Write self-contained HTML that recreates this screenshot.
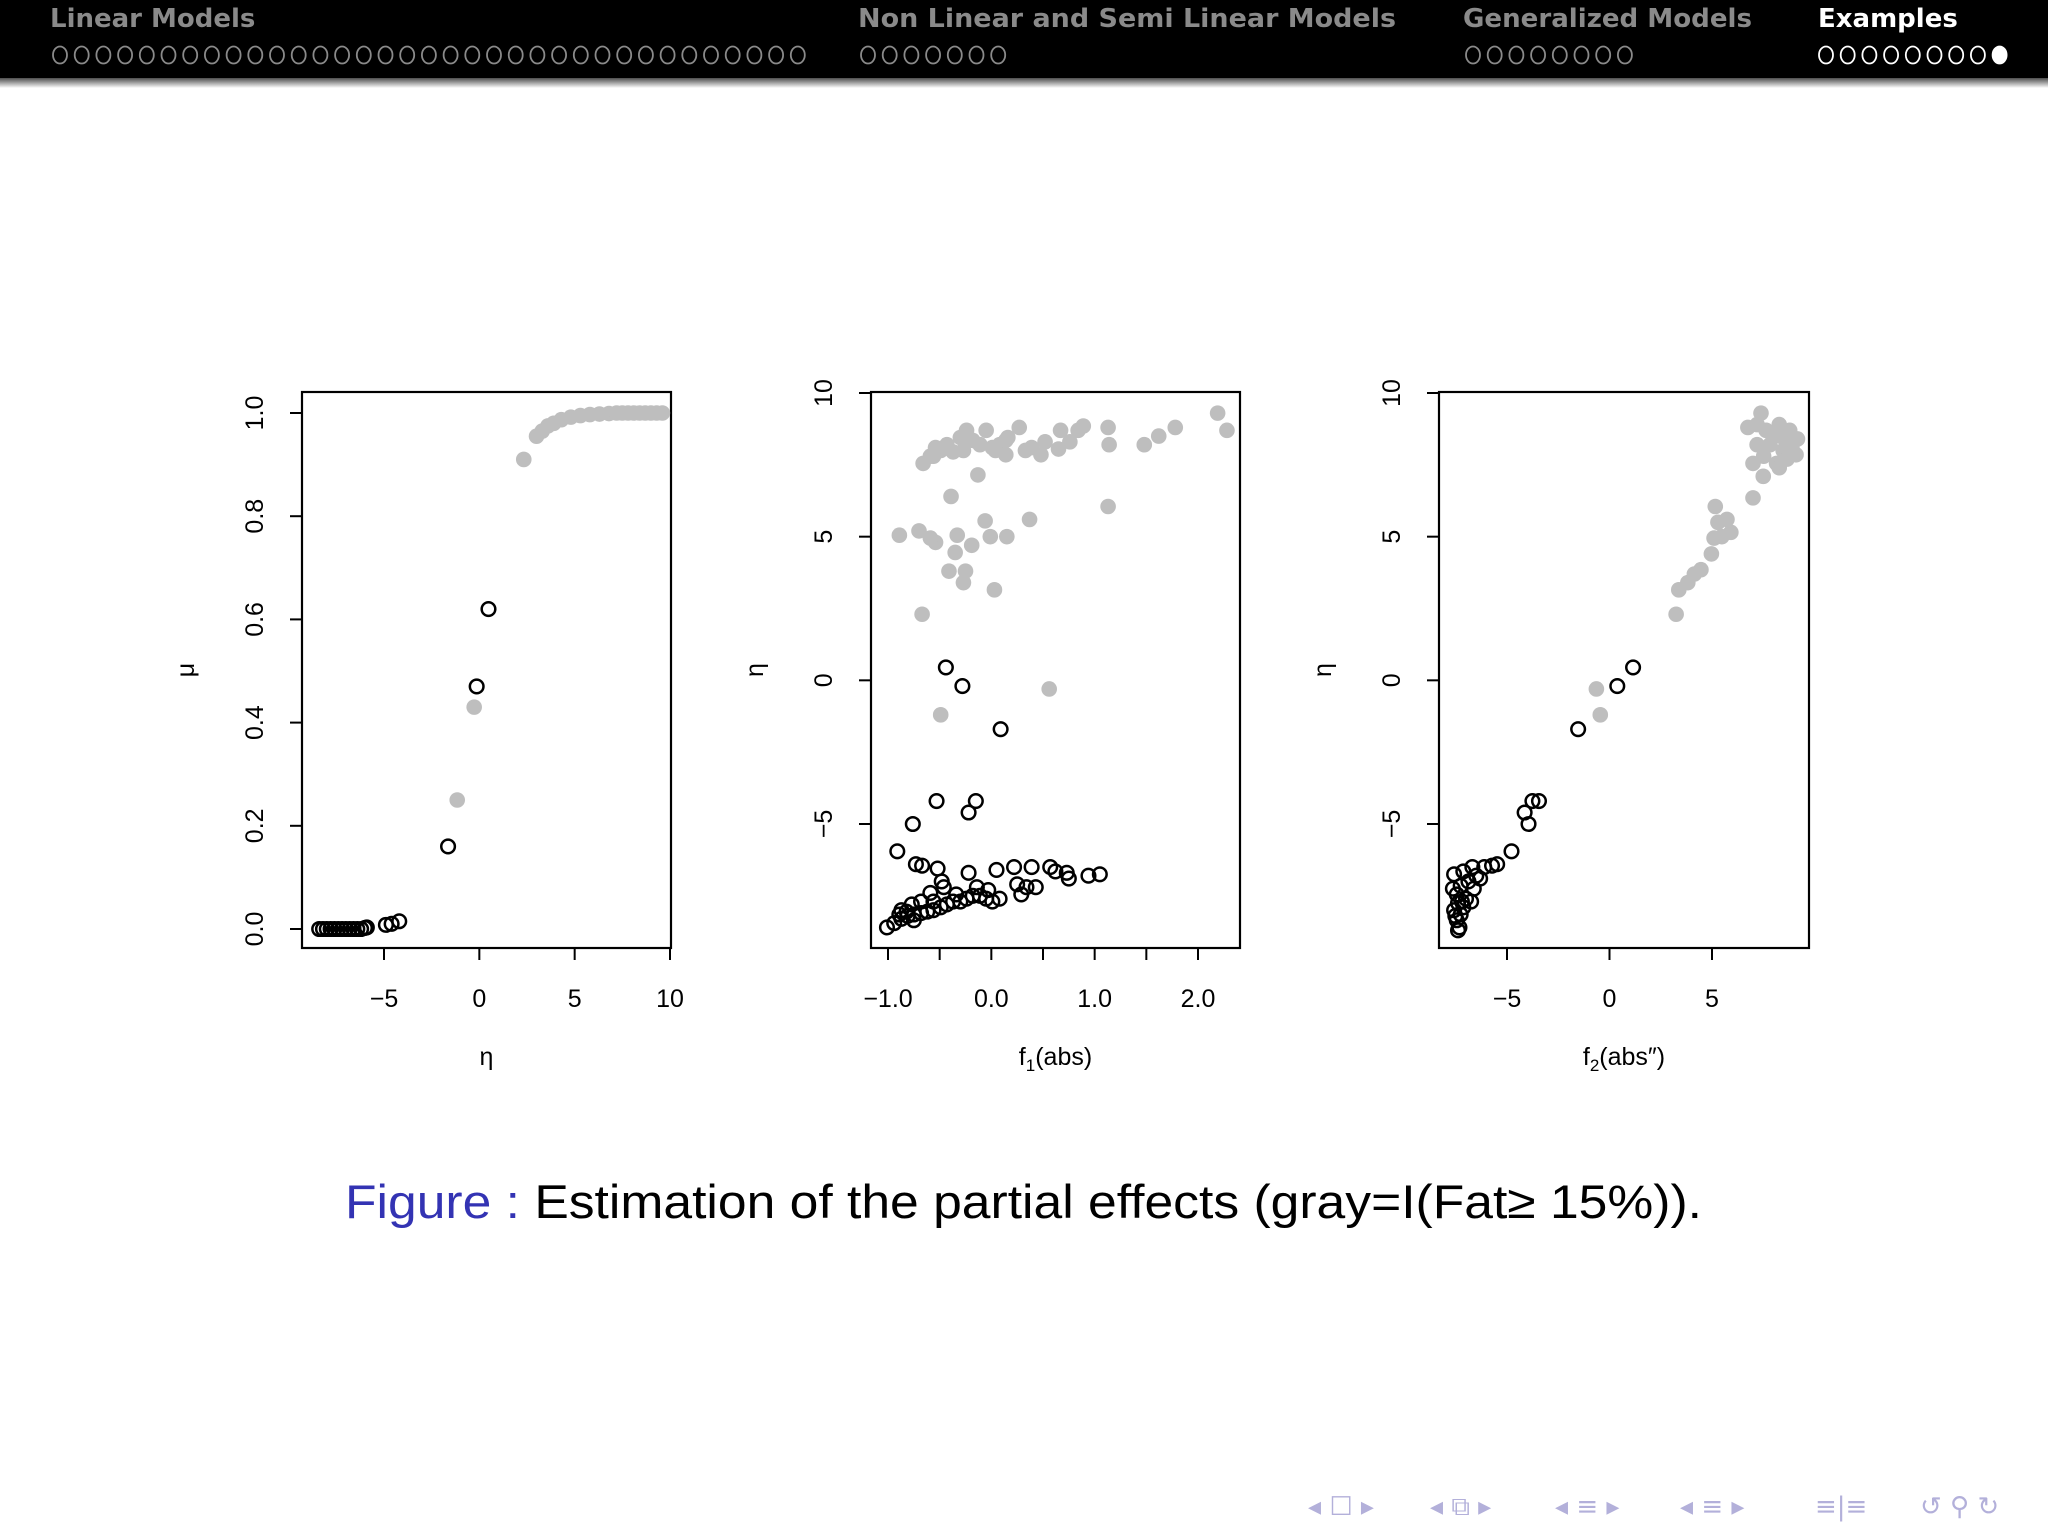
<!DOCTYPE html>
<html><head><meta charset="utf-8">
<style>
html,body{margin:0;padding:0;background:#fff;}
svg{display:block;font-family:"Liberation Sans","DejaVu Sans",sans-serif;}
</style></head>
<body>
<svg id="root" width="2048" height="1536" viewBox="0 0 2048 1536" xmlns="http://www.w3.org/2000/svg">
<defs>
<linearGradient id="shadow" x1="0" y1="0" x2="0" y2="1">
<stop offset="0" stop-color="#000" stop-opacity="0.7"/><stop offset="1" stop-color="#000" stop-opacity="0"/>
</linearGradient>
</defs>
<g>
<rect x="0" y="0" width="2048" height="78" fill="#000"/>
<rect x="0" y="78" width="2048" height="10" fill="url(#shadow)"/>
<g font-family="'DejaVu Sans',sans-serif" font-weight="bold" font-size="26">
<text x="50" y="27" fill="#8a8a8a">Linear Models</text>
<text x="858" y="27" fill="#8a8a8a" textLength="538" lengthAdjust="spacingAndGlyphs">Non Linear and Semi Linear Models</text>
<text x="1463" y="27" fill="#8a8a8a" textLength="289" lengthAdjust="spacingAndGlyphs">Generalized Models</text>
<text x="1818" y="27" fill="#fff">Examples</text>
</g>
<g id="dots"></g>
</g>
<g id="plots"></g>
<g>
<text x="345" y="1218" font-size="47" textLength="1357" lengthAdjust="spacingAndGlyphs"><tspan fill="#3333b3">Figure :</tspan><tspan fill="#000"> Estimation of the partial effects (gray=I(Fat≥ 15%)).</tspan></text>
</g>
<g fill="#b3b0da" font-size="26" font-family="'DejaVu Sans',sans-serif">
<text x="1308" y="1515">◂ ☐ ▸</text>
<text x="1430" y="1515">◂ ⧉ ▸</text>
<text x="1555" y="1515">◂ ≡ ▸</text>
<text x="1680" y="1515">◂ ≡ ▸</text>
<text x="1815" y="1515">≡|≡</text>
<text x="1920" y="1515">↺ ⚲ ↻</text>
</g>
</svg>
<script>
// ---- data ----
const p1BlackEta=[-8.4,-8.2,-8.0,-7.8,-7.6,-7.4,-7.2,-7.0,-6.8,-6.6,-6.4,-6.2,-6.0,-5.9,-4.9,-4.6,-4.2,-1.64,-0.14,0.48];
const p1BlackMu=[0,0,0,0,0,0,0,0,0,0,0,0,0.002,0.003,0.008,0.01,0.015,0.16,0.47,0.62];
const p1GrayEta=[-1.16,-0.27,2.33,3.0,3.3,3.6,3.9,4.3,4.8,5.3,5.8,6.3,6.8,7.2,7.5,7.8,8.1,8.4,8.7,9.0,9.3,9.6];
const p1GrayMu=[0.25,0.43,0.91,0.955,0.965,0.975,0.98,0.987,0.992,0.995,0.997,0.998,0.999,1,1,1,1,1,1,1,1,1];

const p2GrayF=[-0.89,-0.70,-0.54,-0.59,-0.67,-0.39,-0.33,-0.35,-0.19,-0.41,-0.25,-0.27,-0.06,-0.01,0.15,0.03,0.37,-0.13,-0.49,0.56,1.13,2.19,2.28,1.78,1.62,1.48,1.14,1.13,0.89,0.84,0.67,0.76,0.52,0.48,0.27,0.14,0.01,-0.18,-0.30,-0.43,-0.59,-0.66,-0.49,-0.27,-0.11,0.08,0.39,0.65,0.14,-0.37,-0.24,-0.05,0.16,0.33,0.04,-0.56,-0.54];
const p2GrayEta=[5.05,5.2,4.8,4.95,2.3,6.4,5.05,4.45,4.7,3.8,3.8,3.4,5.55,5.0,5.0,3.15,5.6,7.15,-1.2,-0.3,6.05,9.3,8.7,8.8,8.5,8.2,8.2,8.8,8.85,8.7,8.7,8.3,8.3,7.85,8.8,8.35,8.1,8.35,8.45,8.2,7.8,7.55,8.0,8.0,8.2,8.2,8.1,8.05,7.85,7.95,8.7,8.7,8.45,8.0,8.0,7.8,8.1];
const p2BlackF=[-0.44,-0.28,0.09,-0.53,-0.15,-0.22,-0.76,-0.91,-0.73,-0.67,-0.52,-0.48,-0.46,-0.22,0.05,0.22,0.39,0.57,0.62,0.73,0.75,0.94,1.05,0.25,0.34,0.43,0.29,-0.59,-0.77,-0.82,-1.01,-0.94,-0.87,-0.81,-0.75,-0.68,-0.62,-0.56,-0.49,-0.43,-0.37,-0.30,-0.24,-0.18,-0.11,-0.05,0.01,0.08,-0.68,-0.87,-0.56,-0.34,-0.89,-0.75,-0.14,-0.03];
const p2BlackEta=[0.45,-0.2,-1.7,-4.2,-4.2,-4.6,-5.0,-5.95,-6.4,-6.45,-6.55,-7.0,-7.2,-6.7,-6.6,-6.5,-6.5,-6.5,-6.65,-6.7,-6.9,-6.8,-6.75,-7.1,-7.2,-7.2,-7.45,-7.4,-7.8,-8.05,-8.6,-8.45,-8.3,-8.2,-8.15,-8.1,-8.05,-8.0,-7.9,-7.8,-7.7,-7.7,-7.6,-7.5,-7.5,-7.6,-7.7,-7.6,-7.7,-8.0,-7.7,-7.45,-8.15,-8.35,-7.2,-7.3];

const p3GrayX=[-0.64,-0.45,3.25,3.38,3.82,4.14,4.46,4.97,5.1,5.48,5.92,5.29,5.73,5.16,7.0,7.5,7.39,6.75,8.28,8.79,9.17,7.2,7.83,8.47,8.15,7.52,8.66,7.0,8.0,8.9,7.64,7.2,8.47,9.1,8.28];
const p3GrayEta=[-0.3,-1.2,2.3,3.15,3.4,3.7,3.85,4.4,4.95,5.0,5.15,5.5,5.6,6.05,6.35,7.1,9.3,8.8,8.9,8.7,8.4,8.2,8.2,8.0,7.55,7.8,7.7,7.55,8.5,8.1,8.7,8.9,8.45,7.85,7.4];
const p3BlackX=[1.15,0.38,-1.53,-3.44,-3.76,-4.14,-3.95,-4.78,-5.48,-5.73,-6.11,-6.69,-7.13,-7.58,-6.5,-6.88,-6.31,-7.26,-7.45,-7.0,-7.39,-7.58,-7.26,-7.45,-7.32,-7.13,-6.75,-6.62,-7.52,-7.39,-7.2,-7.64];
const p3BlackEta=[0.45,-0.2,-1.7,-4.2,-4.2,-4.6,-5.0,-5.95,-6.4,-6.45,-6.5,-6.5,-6.65,-6.75,-6.8,-7.0,-6.9,-7.15,-7.45,-7.6,-7.75,-8.0,-8.15,-8.35,-8.6,-7.9,-7.7,-7.25,-8.2,-8.7,-7.7,-7.25];

const p1XTicks=[-5,0,5,10];
const p1XLabels=["\u22125","0","5","10"];
const p1YTicks=[0,0.2,0.4,0.6,0.8,1.0];
const p1YLabels=["0.0","0.2","0.4","0.6","0.8","1.0"];
const p2XTicks=[-1,-0.5,0,0.5,1,1.5,2];
const p2XLabels=["\u22121.0","","0.0","","1.0","","2.0"];
const etaTicks=[-5,0,5,10];
const etaLabels=["\u22125","0","5","10"];
const p3XTicks=[-5,0,5];
const p3XLabels=["\u22125","0","5"];

const NS="http://www.w3.org/2000/svg";
function mk(tag,attrs,parent){const e=document.createElementNS(NS,tag);for(const k in attrs)e.setAttribute(k,attrs[k]);parent.appendChild(e);return e;}

const dots=document.getElementById('dots');
function dotRow(x0,n,filledLast,color){
  for(let i=0;i<n;i++){
    const c=mk('ellipse',{cx:x0+i*21.7+8,cy:55,rx:7,ry:8.5,fill:(filledLast&&i===n-1)?color:'none',stroke:color,'stroke-width':1.8},dots);
    
    
  }
}
dotRow(52,35,false,'#8a8a8a');
dotRow(860,7,false,'#8a8a8a');
dotRow(1465,8,false,'#8a8a8a');
dotRow(1818,9,true,'#ffffff');

const plots=document.getElementById('plots');
function panel(cfg){
  const g=mk('g',{},plots);
  
  
  const sx=v=>cfg.px0+(v-cfg.vx0)/(cfg.vx1-cfg.vx0)*(cfg.px1-cfg.px0);
  const sy=v=>cfg.py0+(v-cfg.vy0)/(cfg.vy1-cfg.vy0)*(cfg.py1-cfg.py0);
  const box=mk('rect',{x:cfg.bx0,y:cfg.by0,width:cfg.bx1-cfg.bx0,height:cfg.by1-cfg.by0,fill:'none',stroke:'#000','stroke-width':2.2},g);
  
  
  const xa=mk('g',{},g);
  
  
  mk('line',{x1:sx(cfg.xt[0]),x2:sx(cfg.xt[cfg.xt.length-1]),y1:cfg.by1,y2:cfg.by1,stroke:'#000','stroke-width':2},xa);
  cfg.xt.forEach((t,i)=>{
    mk('line',{x1:sx(t),x2:sx(t),y1:cfg.by1,y2:cfg.by1+12,stroke:'#000','stroke-width':2},xa);
    if(cfg.xl[i]){const tx=mk('text',{x:sx(t),y:cfg.by1+59,'text-anchor':'middle','font-size':25},xa);tx.textContent=cfg.xl[i];
    
    }
  });
  const xt=mk('text',{x:(cfg.bx0+cfg.bx1)/2,y:cfg.by1+117,'text-anchor':'middle','font-size':25},g);
  xt.innerHTML=cfg.xtitle;
  
  
  const ya=mk('g',{},g);
  
  
  mk('line',{x1:cfg.bx0,x2:cfg.bx0,y1:sy(cfg.yt[0]),y2:sy(cfg.yt[cfg.yt.length-1]),stroke:'#000','stroke-width':2},ya);
  cfg.yt.forEach((t,i)=>{
    mk('line',{x1:cfg.bx0-12,x2:cfg.bx0,y1:sy(t),y2:sy(t),stroke:'#000','stroke-width':2},ya);
    const lx=cfg.bx0-39;
    const tx=mk('text',{x:lx,y:sy(t),'text-anchor':'middle','font-size':25,transform:`rotate(-90 ${lx} ${sy(t)})`},ya);
    tx.textContent=cfg.yl[i];
    
    
  });
  const yx=cfg.bx0-108, yy=(cfg.by0+cfg.by1)/2;
  const yt=mk('text',{x:yx,y:yy,'text-anchor':'middle','font-size':25,transform:`rotate(-90 ${yx} ${yy})`},g);
  yt.textContent=cfg.ytitle;
  
  
  cfg.gx.forEach((v,i)=>{
    const c=mk('circle',{cx:sx(v),cy:sy(cfg.gy[i]),r:7.8,fill:'#bebebe'},g);
    
    
  });
  cfg.kx.forEach((v,i)=>{
    const c=mk('circle',{cx:sx(v),cy:sy(cfg.ky[i]),r:6.8,fill:'none',stroke:'#000','stroke-width':2.5},g);
    
    
  });
}
panel({name:'panel-mu-vs-eta',bx0:302,bx1:671,by0:392,by1:948,
  vx0:-5,px0:384,vx1:10,px1:670, vy0:0,py0:929,vy1:1,py1:413,
  xt:p1XTicks,xl:p1XLabels,yt:p1YTicks,yl:p1YLabels,xtitle:'η',ytitle:'μ',
  gx:p1GrayEta,gy:p1GrayMu,kx:p1BlackEta,ky:p1BlackMu});
panel({name:'panel-eta-vs-f1',bx0:871,bx1:1240,by0:392,by1:948,
  vx0:-1,px0:888,vx1:2,px1:1198, vy0:-5,py0:824,vy1:10,py1:393,
  xt:p2XTicks,xl:p2XLabels,yt:etaTicks,yl:etaLabels,xtitle:'f<tspan font-size="17" dy="6">1</tspan><tspan dy="-6">(abs)</tspan>',ytitle:'η',
  gx:p2GrayF,gy:p2GrayEta,kx:p2BlackF,ky:p2BlackEta});
panel({name:'panel-eta-vs-f2',bx0:1439,bx1:1809,by0:392,by1:948,
  vx0:-5,px0:1507,vx1:5,px1:1712, vy0:-5,py0:824,vy1:10,py1:393,
  xt:p3XTicks,xl:p3XLabels,yt:etaTicks,yl:etaLabels,xtitle:'f<tspan font-size="17" dy="6">2</tspan><tspan dy="-6">(abs\u2033)</tspan>',ytitle:'η',
  gx:p3GrayX,gy:p3GrayEta,kx:p3BlackX,ky:p3BlackEta});
</script>
</body></html>
